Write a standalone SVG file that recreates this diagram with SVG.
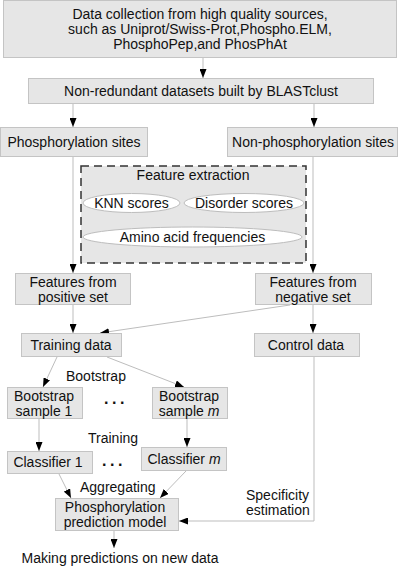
<svg xmlns="http://www.w3.org/2000/svg" width="400" height="567" viewBox="0 0 400 567">
<style>
.box{fill:#e6e6e6;stroke:#c4c4c4;stroke-width:1}
.ell{fill:#ffffff;stroke:#bdbdbd;stroke-width:1}
text{font-family:"Liberation Sans",Arial,sans-serif;font-size:14px;fill:#111}
.c{text-anchor:middle}
.dots{font-weight:bold;font-size:16px;letter-spacing:3.5px}
.ln{fill:none;stroke:#bdbdbd;stroke-width:1}
</style>
<defs>
<marker id="ah" viewBox="0 0 9 7" refX="9" refY="3.5" markerWidth="9" markerHeight="7" markerUnits="userSpaceOnUse" orient="auto">
<path d="M0,0 L9,3.5 L0,7 z" fill="#000"/>
</marker>
</defs>
<g id="connectors">
<line class="ln" x1="203" y1="57" x2="203" y2="78" marker-end="url(#ah)"/>
<line class="ln" x1="73" y1="104" x2="73" y2="127" marker-end="url(#ah)"/>
<line class="ln" x1="314" y1="104" x2="314" y2="127" marker-end="url(#ah)"/>
<line class="ln" x1="73" y1="157" x2="73" y2="273" marker-end="url(#ah)"/>
<line class="ln" x1="313" y1="157" x2="313" y2="273" marker-end="url(#ah)"/>
<line class="ln" x1="73" y1="305" x2="73" y2="333" marker-end="url(#ah)"/>
<line class="ln" x1="290" y1="305" x2="100" y2="333" marker-end="url(#ah)"/>
<line class="ln" x1="313" y1="305" x2="313" y2="333" marker-end="url(#ah)"/>
<line class="ln" x1="57" y1="357" x2="43" y2="387" marker-end="url(#ah)"/>
<line class="ln" x1="107" y1="357" x2="184" y2="387" marker-end="url(#ah)"/>
<line class="ln" x1="39" y1="419" x2="39" y2="451" marker-end="url(#ah)"/>
<line class="ln" x1="187" y1="419" x2="187" y2="447" marker-end="url(#ah)"/>
<line class="ln" x1="59" y1="474" x2="71" y2="498" marker-end="url(#ah)"/>
<line class="ln" x1="186" y1="471" x2="160" y2="498" marker-end="url(#ah)"/>
<polyline class="ln" points="314,356 314,521 179,521" marker-end="url(#ah)"/>
<line class="ln" x1="114" y1="531" x2="114" y2="548" marker-end="url(#ah)"/>
</g>
<g id="data-collection">
<rect class="box" x="3.5" y="0.5" width="393" height="57"/>
<text class="c" x="200" y="19">Data collection from high quality sources,</text>
<text class="c" x="200" y="34">such as Uniprot/Swiss-Prot,Phospho.ELM,</text>
<text class="c" x="200" y="49">PhosphoPep,and PhosPhAt</text>
</g>
<g id="non-redundant">
<rect class="box" x="28.5" y="78.5" width="345" height="25"/>
<text class="c" x="201" y="96">Non-redundant datasets built by BLASTclust</text>
</g>
<g id="phospho-sites">
<rect class="box" x="0.5" y="127.5" width="147" height="29"/>
<text class="c" x="74" y="147">Phosphorylation sites</text>
</g>
<g id="non-phospho-sites">
<rect class="box" x="227.5" y="127.5" width="170" height="29"/>
<text class="c" x="313" y="147">Non-phosphorylation sites</text>
</g>
<g id="feature-extraction">
<rect x="81" y="166" width="225" height="97" fill="#e6e6e6" stroke="#333" stroke-width="1.5" stroke-dasharray="8,5"/>
<text class="c" x="193" y="180">Feature extraction</text>
<ellipse class="ell" cx="131.5" cy="203" rx="48.5" ry="9.5"/>
<text class="c" x="131.5" y="208">KNN scores</text>
<ellipse class="ell" cx="244" cy="203" rx="60" ry="9.5"/>
<text class="c" x="244" y="208">Disorder scores</text>
<ellipse class="ell" cx="192.5" cy="237" rx="109.5" ry="10"/>
<text class="c" x="192.5" y="242">Amino acid frequencies</text>
</g>
<g id="features-positive">
<rect class="box" x="15.5" y="273.5" width="115" height="31"/>
<text class="c" x="73" y="287">Features from</text>
<text class="c" x="73" y="302">positive set</text>
</g>
<g id="features-negative">
<rect class="box" x="255.5" y="273.5" width="116" height="31"/>
<text class="c" x="313" y="287">Features from</text>
<text class="c" x="313" y="302">negative set</text>
</g>
<g id="training-data">
<rect class="box" x="21.5" y="333.5" width="100" height="23"/>
<text class="c" x="71" y="350">Training data</text>
</g>
<g id="control-data">
<rect class="box" x="254.5" y="333.5" width="105" height="23"/>
<text class="c" x="306" y="350">Control data</text>
</g>
<text x="66" y="381">Bootstrap</text>
<g id="bootstrap-1">
<rect class="box" x="7.5" y="387.5" width="75" height="31"/>
<text class="c" x="44" y="401">Bootstrap</text>
<text class="c" x="44" y="416">sample 1</text>
</g>
<text class="dots" x="104" y="404">...</text>
<g id="bootstrap-m">
<rect class="box" x="152.5" y="387.5" width="75" height="31"/>
<text class="c" x="189" y="401">Bootstrap</text>
<text class="c" x="189" y="416">sample <tspan font-style="italic">m</tspan></text>
</g>
<text x="88" y="443">Training</text>
<g id="classifier-1">
<rect class="box" x="7.5" y="451.5" width="85" height="22"/>
<text class="c" x="48" y="467">Classifier 1</text>
</g>
<text class="dots" x="102" y="466">...</text>
<g id="classifier-m">
<rect class="box" x="141.5" y="447.5" width="85" height="23"/>
<text class="c" x="184" y="464">Classifier <tspan font-style="italic">m</tspan></text>
</g>
<text x="80" y="492">Aggregating</text>
<text x="246" y="500">Specificity</text>
<text x="246" y="515">estimation</text>
<g id="prediction-model">
<rect class="box" x="55.5" y="498.5" width="123" height="32"/>
<text class="c" x="115" y="512">Phosphorylation</text>
<text class="c" x="115" y="527">prediction model</text>
</g>
<text class="c" x="120" y="563">Making predictions on new data</text>
</svg>
